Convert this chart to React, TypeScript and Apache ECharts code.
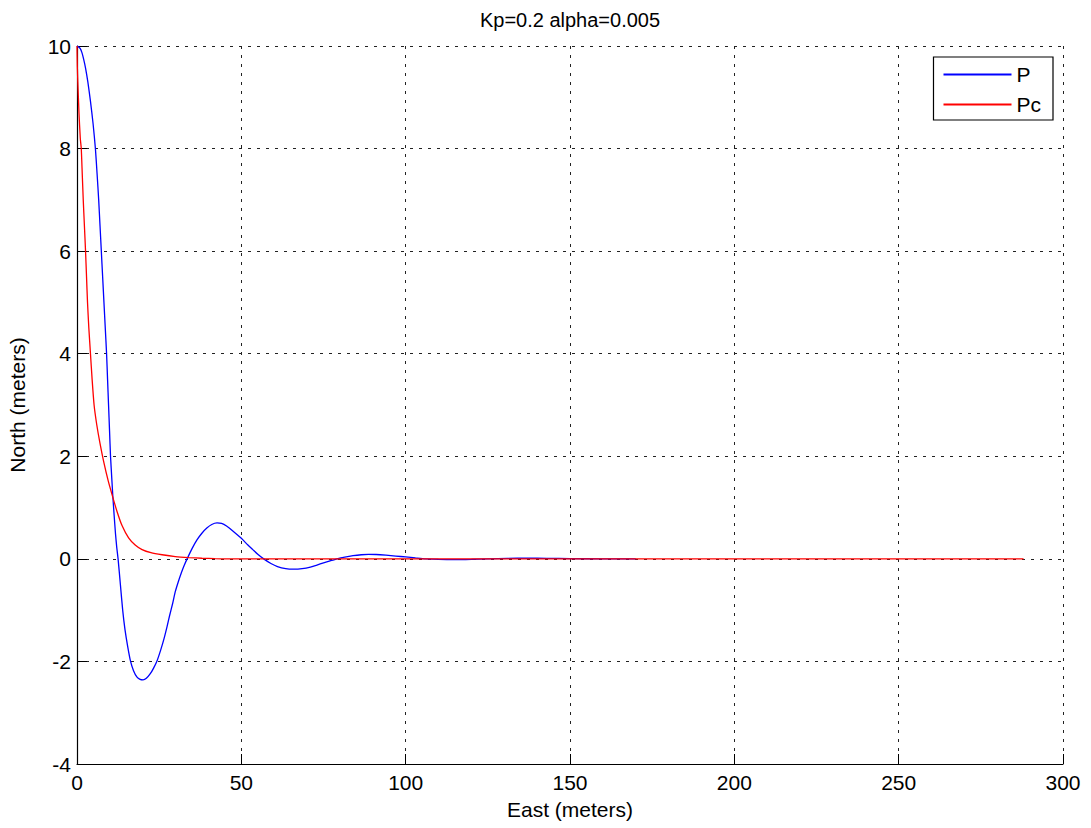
import React, { useEffect, useRef } from "react";
import * as echarts from "echarts";

const titleText = "Kp=0.2 alpha=0.005";
const xTicks = [0, 50, 100, 150, 200, 250, 300];
const yTicks = [-4, -2, 0, 2, 4, 6, 8, 10];

const pEast = [0, 0.3, 1, 1.5, 2, 2.6, 3.3, 4.1, 4.9, 5.6, 6.1, 6.6, 7.0, 7.4, 7.8, 8.2, 8.6, 9.0, 9.3, 9.6, 9.9, 10.2, 10.6, 10.9, 11.3, 11.7, 12.1, 12.5, 13.2, 13.9, 14.6, 15.4, 16.3, 17.2, 18.2, 19.2, 20.1, 21.1, 22.3, 23.3, 24.4, 25.5, 26.5, 27.4, 28.2, 29.1, 29.9, 30.8, 31.7, 32.6, 33.5, 35, 36.5, 38, 39.5, 41, 42.6, 44, 45.5, 47.5, 50, 52, 53.5, 55, 56.8, 59, 61, 63.5, 65.9, 68.5, 71, 73, 75, 77, 79.1, 81.5, 84, 86.5, 88.7, 91, 94, 97, 100, 103, 106, 110, 115, 120, 125, 131, 137, 143, 150, 160, 170];
const pNorth = [10, 9.99, 9.95, 9.87, 9.75, 9.57, 9.3, 8.92, 8.48, 8.0, 7.52, 7.0, 6.5, 6.0, 5.5, 5.0, 4.5, 4.0, 3.5, 3.0, 2.5, 2.0, 1.55, 1.22, 0.85, 0.5, 0.22, 0.0, -0.5, -1.0, -1.38, -1.7, -2.0, -2.18, -2.3, -2.35, -2.36, -2.33, -2.24, -2.13, -1.98, -1.77, -1.55, -1.32, -1.1, -0.87, -0.64, -0.45, -0.28, -0.13, 0.0, 0.2, 0.37, 0.5, 0.6, 0.67, 0.7, 0.69, 0.64, 0.54, 0.4, 0.27, 0.18, 0.09, 0.0, -0.09, -0.15, -0.19, -0.2, -0.19, -0.16, -0.12, -0.08, -0.04, 0.0, 0.035, 0.062, 0.08, 0.088, 0.085, 0.072, 0.055, 0.037, 0.018, 0.0, -0.012, -0.016, -0.01, 0.0, 0.01, 0.013, 0.01, 0.005, 0.0, 0.0];

const pcEast = [0, 0.1, 0.25, 0.6, 1.0, 1.3, 1.6, 1.9, 2.25, 2.6, 2.9, 3.2, 3.6, 4.1, 4.6, 5.2, 6.0, 7.0, 8.1, 9.5, 10.9, 12.2, 13.7, 15.7, 17.7, 19.8, 22.5, 25.9, 29.9, 34, 38, 42, 46, 100, 200, 288];
const pcNorth = [10, 9.6, 9.3, 8.7, 8.2, 8.0, 7.5, 7.0, 6.5, 6.0, 5.5, 5.0, 4.5, 4.0, 3.5, 3.0, 2.62, 2.25, 1.9, 1.52, 1.2, 0.92, 0.65, 0.41, 0.27, 0.18, 0.12, 0.08, 0.045, 0.025, 0.012, 0.004, 0.0, 0.0, 0.0, 0.0];

const zip = (a: number[], b: number[]) => a.map((v, i) => [v, b[i]]);

export default function App() {
  const ref = useRef<HTMLDivElement>(null);
  useEffect(() => {
    const chart = echarts.init(ref.current!, null, { renderer: "svg" });
    const font = "'Liberation Sans', Arial, sans-serif";
    chart.setOption({
      animation: false,
      backgroundColor: "#ffffff",
      textStyle: { fontFamily: font },
      grid: { left: 77, right: 28, top: 46, bottom: 64, containLabel: false, outerBoundsMode: "none" },
      graphic: [
        {
          type: "text",
          x: 570,
          y: 20,
          style: {
            text: titleText,
            font: `20px ${font}`,
            fill: "#000",
            textAlign: "center",
            textVerticalAlign: "middle",
          },
        },
      ],
      legend: {
        orient: "vertical",
        right: 38,
        top: 57,
        backgroundColor: "#ffffff",
        borderColor: "#000",
        borderWidth: 1.2,
        borderRadius: 0,
        padding: [7, 12, 5, 10],
        itemGap: 9,
        itemWidth: 68,
        itemHeight: 2,
        icon: "rect",
        textStyle: { fontSize: 21, color: "#000", fontFamily: font },
        data: ["P", "Pc"],
      },
      xAxis: {
        type: "value",
        min: xTicks[0],
        max: xTicks[xTicks.length - 1],
        interval: 50,
        name: "East (meters)",
        nameLocation: "middle",
        nameGap: 35,
        nameTextStyle: { fontSize: 21, color: "#000", fontFamily: font },
        axisLine: { show: true, onZero: false, lineStyle: { color: "#000", width: 1.2 } },
        axisTick: { show: true, inside: true, length: 10, lineStyle: { color: "#000" } },
        axisLabel: { fontSize: 21, color: "#000", margin: 8, fontFamily: font },
        splitLine: { show: true, lineStyle: { color: "#222", type: [3, 6], width: 1 } },
      },
      yAxis: {
        type: "value",
        min: yTicks[0],
        max: yTicks[yTicks.length - 1],
        interval: 2,
        name: "North (meters)",
        nameLocation: "middle",
        nameGap: 49,
        nameTextStyle: { fontSize: 21, color: "#000", fontFamily: font },
        axisLine: { show: true, onZero: false, lineStyle: { color: "#000", width: 1.2 } },
        axisTick: { show: true, inside: true, length: 10, lineStyle: { color: "#000" } },
        axisLabel: { fontSize: 21, color: "#000", margin: 6, fontFamily: font },
        splitLine: { show: true, lineStyle: { color: "#222", type: [3, 6], width: 1 } },
      },
      series: [
        {
          name: "P",
          type: "line",
          data: zip(pEast, pNorth),
          showSymbol: false,
          smooth: 0.2,
          lineStyle: { color: "#0000ff", width: 1.3 },
          itemStyle: { color: "#0000ff" },
        },
        {
          name: "Pc",
          type: "line",
          data: zip(pcEast, pcNorth),
          showSymbol: false,
          smooth: 0.2,
          lineStyle: { color: "#ff0000", width: 1.3 },
          itemStyle: { color: "#ff0000" },
        },
      ],
    });
    return () => chart.dispose();
  }, []);
  return (
    <div
      ref={ref}
      style={{ position: "absolute", left: 0, top: 0, width: 1091, height: 828 }}
    />
  );
}
